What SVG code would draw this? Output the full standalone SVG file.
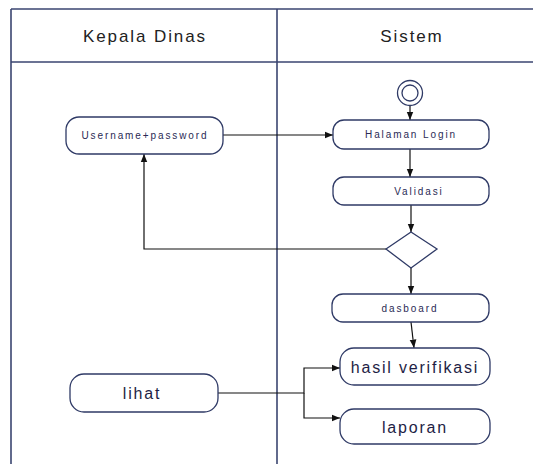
<svg xmlns="http://www.w3.org/2000/svg" width="533" height="464" viewBox="0 0 533 464">
  <defs>
    <marker id="arrow" viewBox="0 0 10 10" refX="10" refY="5" markerWidth="7" markerHeight="7" orient="auto-start-reverse">
      <path d="M0,1 L10,5 L0,9 Z" fill="#111"/>
    </marker>
    <style>
      .lane { fill: none; stroke: #3a4570; stroke-width: 1.6; }
      .box { fill: #fff; stroke: #2f3a66; stroke-width: 1.3; }
      .edge { fill: none; stroke: #111; stroke-width: 1.2; }
      .head { font-family: "Liberation Sans", Arial, sans-serif; font-size: 17px; letter-spacing: 1.9px; fill: #222; text-anchor: middle; }
      .small { font-family: "Liberation Sans", Arial, sans-serif; font-size: 10px; letter-spacing: 1.9px; fill: #2a2a55; text-anchor: middle; }
      .big { font-family: "Liberation Sans", Arial, sans-serif; font-size: 16px; letter-spacing: 1.8px; fill: #1e1e45; text-anchor: middle; }
    </style>
  </defs>
  <rect width="533" height="464" fill="#fff"/>

  <!-- swimlanes -->
  <g id="lanes">
    <line class="lane" x1="11" y1="9" x2="540" y2="9"/>
    <line class="lane" x1="11" y1="62" x2="540" y2="62"/>
    <line class="lane" x1="11" y1="9" x2="11" y2="464"/>
    <line class="lane" x1="277" y1="9" x2="277" y2="464"/>
    <text class="head" x="145" y="42">Kepala Dinas</text>
    <text class="head" x="412" y="42">Sistem</text>
  </g>

  <!-- connectors -->
  <g id="connectors">
    <line class="edge" x1="410" y1="106" x2="410" y2="120" marker-end="url(#arrow)"/>
    <line class="edge" x1="223" y1="135" x2="333" y2="135" marker-end="url(#arrow)"/>
    <line class="edge" x1="410" y1="149" x2="410" y2="177" marker-end="url(#arrow)"/>
    <line class="edge" x1="411" y1="205" x2="411" y2="232" marker-end="url(#arrow)"/>
    <polyline class="edge" points="386,249 144,249 144,154" marker-end="url(#arrow)"/>
    <line class="edge" x1="411" y1="268" x2="411" y2="294" marker-end="url(#arrow)"/>
    <line class="edge" x1="411" y1="322" x2="414" y2="348" marker-end="url(#arrow)"/>
    <polyline class="edge" points="218,393 304,393 304,368 340,368" marker-end="url(#arrow)"/>
    <polyline class="edge" points="304,393 304,418 340,418" marker-end="url(#arrow)"/>
  </g>

  <!-- nodes -->
  <g id="start">
    <circle cx="410" cy="93" r="12.5" fill="#fff" stroke="#2f3a66" stroke-width="1.3"/>
    <circle cx="410" cy="93" r="8" fill="#fff" stroke="#2f3a66" stroke-width="1.3"/>
  </g>
  <g id="username-password">
    <rect class="box" x="66" y="117" width="157" height="37" rx="13"/>
    <text class="small" x="145" y="139">Username+password</text>
  </g>
  <g id="halaman-login">
    <rect class="box" x="333" y="120" width="156" height="29" rx="11"/>
    <text class="small" x="411" y="138">Halaman Login</text>
  </g>
  <g id="validasi">
    <rect class="box" x="333" y="177" width="156" height="28" rx="11"/>
    <text class="small" x="419" y="195">Validasi</text>
  </g>
  <g id="decision">
    <polygon points="411,232 437,249 411,268 386,249" fill="#fff" stroke="#2f3a66" stroke-width="1.3"/>
  </g>
  <g id="dasboard">
    <rect class="box" x="332" y="294" width="157" height="28" rx="11"/>
    <text class="small" x="410" y="312">dasboard</text>
  </g>
  <g id="hasil-verifikasi">
    <rect class="box" x="340" y="348" width="150" height="37" rx="14"/>
    <text class="big" x="415" y="373">hasil verifikasi</text>
  </g>
  <g id="laporan">
    <rect class="box" x="340" y="409" width="150" height="35" rx="14"/>
    <text class="big" x="415" y="433">laporan</text>
  </g>
  <g id="lihat">
    <rect class="box" x="70" y="374" width="148" height="38" rx="14"/>
    <text class="big" x="142" y="399">lihat</text>
  </g>
</svg>
